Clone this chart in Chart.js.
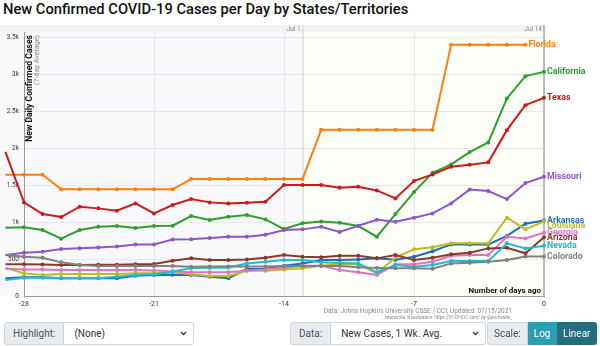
<!DOCTYPE HTML>
<html lang="en-US">

<head>
    <title>New Confirmed COVID-19 Cases per Day</title>
    <meta charset="utf-8" />
    <script src="https://cdn.jsdelivr.net/npm/chart.js@4"></script>
    <style>
        body { margin: 0; width: 600px; height: 346px; position: relative; background: #fff; font-family: Roboto, "Liberation Sans", sans-serif; overflow: hidden; }
        #title { position: absolute; left: 3px; top: 0px; font-size: 14.7px; font-weight: 500; color: #111; white-space: nowrap; }
        #wrap { position: absolute; left: 0; top: 0; width: 600px; height: 310px; }
        .src { position: absolute; right: 88px; color: #888; white-space: nowrap; text-align: right; }
        .grp { position: absolute; top: 322px; height: 23px; display: flex; font-size: 10px; color: #495057; }
        .grp > div { display: flex; align-items: center; border: 1px solid #ced4da; box-sizing: border-box; height: 23px; white-space: nowrap; }
        .lbl { background: #e9ecef; padding: 0 8px; border-radius: 3px 0 0 3px; }
        .sel { background: #fff; border-left: none !important; border-radius: 0 3px 3px 0; justify-content: space-between; padding: 0 6px 0 10px; color: #333; }
        .btn { color: #fff; padding: 0 6px; border: none !important; }
    </style>
</head>

<body>
    <div id="title">New Confirmed COVID-19 Cases per Day by States/Territories</div>
    <div id="wrap"><canvas id="graph"></canvas></div>
    <div class="src" style="top: 307px; font-size: 6.5px;">Data: Johns Hopkins University CSSE / CCI; Updated: 07/15/2021</div>
    <div class="src" style="top: 315px; font-size: 4.5px;">Interactive Visualization: https://91-DIVOC.com/ by @profwade_</div>

    <div class="grp" style="left: 4px; width: 190px;">
        <div class="lbl">Highlight:</div>
        <div class="sel" style="flex: 1;">(None) <svg width="7" height="5" viewBox="0 0 7 5"><path d="M1 1l2.5 2.5L6 1" stroke="#333" fill="none" stroke-width="1.3"/></svg></div>
    </div>
    <div class="grp" style="left: 290px; width: 196px;">
        <div class="lbl">Data:</div>
        <div class="sel" style="flex: 1;">New Cases, 1 Wk. Avg. <svg width="7" height="5" viewBox="0 0 7 5"><path d="M1 1l2.5 2.5L6 1" stroke="#333" fill="none" stroke-width="1.3"/></svg></div>
    </div>
    <div class="grp" style="left: 487px; width: 110px;">
        <div class="lbl" style="padding: 0 6px;">Scale:</div>
        <div class="btn" style="background: #2a9fb4;">Log</div>
        <div class="btn" style="background: #236d7c; border-radius: 0 3px 3px 0; flex: 1; justify-content: center; padding: 0 2px;">Linear</div>
    </div>

    <script>
        // days ago, -29 .. 0
        const days = [-29, -28, -27, -26, -25, -24, -23, -22, -21, -20, -19, -18, -17, -16, -15, -14, -13, -12, -11, -10, -9, -8, -7, -6, -5, -4, -3, -2, -1, 0];
        const xTicks = [-28, -21, -14, -7, 0];
        const yTicks = [0, 500, 1000, 1500, 2000, 2500, 3000, 3500];
        const jul1Day = -13;

        const florida = [1640, 1640, 1640, 1442, 1442, 1442, 1442, 1442, 1442, 1442, 1581, 1581, 1581, 1581, 1581, 1581, 1581, 2247, 2247, 2247, 2247, 2247, 2247, 2247, 3396, 3396, 3396, 3396, 3396, null];
        const california = [923, 928, 892, 775, 892, 937, 946, 919, 946, 950, 1081, 1027, 1072, 1095, 1036, 905, 985, 1009, 991, 946, 802, 1108, 1405, 1667, 1779, 1946, 2077, 2671, 2973, 3031];
        const texas = [1950, 1266, 1108, 1068, 1207, 1185, 1153, 1252, 1117, 1230, 1311, 1266, 1252, 1261, 1275, 1500, 1500, 1500, 1464, 1477, 1428, 1320, 1554, 1644, 1748, 1775, 1807, 2243, 2581, 2680];
        const missouri = [554, 586, 599, 635, 645, 655, 669, 696, 696, 765, 766, 784, 802, 802, 829, 892, 901, 937, 865, 950, 1032, 1005, 1059, 1117, 1252, 1441, 1419, 1311, 1527, 1613];
        const arkansas = [239, 252, 252, 239, 239, 239, 239, 275, 284, 289, 284, 261, 239, 365, 365, 410, 441, 486, 486, 495, 509, 490, 532, 605, 698, 698, 698, 813, 978, 1022];
        const louisiana = [383, 306, 284, 297, 297, 297, 297, 306, 306, 320, 293, 270, 270, 342, 342, 360, 374, 410, 428, 430, 306, 520, 631, 658, 712, 712, 712, 1059, 901, 1010];
        const georgia = [369, 360, 360, 351, 351, 351, 351, 351, 346, 333, 320, 320, 320, 342, 360, 387, 410, 410, 351, 320, 284, 428, 428, 464, 545, 554, 554, 802, 779, 856];
        const arizona = [428, 428, 425, 419, 419, 422, 422, 428, 432, 477, 509, 486, 486, 495, 518, 554, 532, 523, 545, 545, 509, 554, 486, 518, 563, 586, 644, 653, 577, 793];
        const nevada = [216, 248, 248, 239, 239, 239, 261, 284, 293, 329, 378, 383, 385, 441, 464, 486, 486, 455, 446, 441, 320, 419, 396, 419, 473, 473, 473, 712, 644, 680];
        const colorado = [554, 532, 518, 455, 419, 405, 405, 405, 405, 405, 396, 400, 400, 400, 400, 405, 405, 405, 405, 390, 380, 374, 374, 368, 441, 450, 464, 486, 534, 534];

        const states = ['Colorado', 'Nevada', 'Arizona', 'Georgia', 'Louisiana', 'Arkansas', 'Missouri', 'Texas', 'California', 'Florida'];
        const series = [colorado, nevada, arizona, georgia, louisiana, arkansas, missouri, texas, california, florida];
        const colors = ['#808080', '#1fbccf', '#8a3a2a', '#e072c4', '#bcbd22', '#1f6fb4', '#9056c8', '#cc1a1a', '#2ca02c', '#ff7f0e'];

        const fmtK = (v) => v === 0 ? '0' : (v < 1000 ? String(v) : (v / 1000) + 'k');

        const overlay = {
            id: 'overlay',
            beforeDraw(chart) {
                const { ctx, chartArea: a, scales: { x } } = chart;
                ctx.save();
                ctx.fillStyle = '#f3f3f7';
                ctx.fillRect(0, 25, a.right, a.top - 25);
                ctx.fillStyle = '#f9f9fc';
                ctx.fillRect(0, a.top, a.right, a.bottom - a.top);
                const j1 = x.getPixelForValue(jul1Day);
                ctx.fillStyle = '#fefef8';
                ctx.fillRect(j1, a.top, a.right - j1, a.bottom - a.top);
                ctx.restore();
            },
            beforeDatasetsDraw(chart) {
                const { ctx, chartArea: a, scales: { x } } = chart;
                const j1 = x.getPixelForValue(jul1Day);
                const j14 = x.getPixelForValue(0);
                ctx.save();
                ctx.strokeStyle = '#cfcfcf';
                ctx.lineWidth = 1;
                ctx.beginPath(); ctx.moveTo(j1 + 0.5, 25); ctx.lineTo(j1 + 0.5, a.bottom); ctx.stroke();
                ctx.strokeStyle = '#a8a8a8';
                ctx.lineWidth = 1.5;
                ctx.beginPath(); ctx.moveTo(j14, 25); ctx.lineTo(j14, a.bottom); ctx.stroke();

                ctx.fillStyle = '#8a8a8a';
                ctx.font = '6.5px Roboto';
                ctx.textAlign = 'right';
                ctx.textBaseline = 'alphabetic';
                ctx.fillText('Jul 1', j1 - 2, 31);
                ctx.fillText('Jul 14', j14 - 2, 31);

                // axis titles inside the plot
                ctx.translate(30, 35);
                ctx.rotate(-Math.PI / 2);
                ctx.textBaseline = 'middle';
                ctx.fillStyle = '#111';
                ctx.font = 'bold 8.6px Roboto';
                ctx.fillText('New Daily Confirmed Cases', 0, 0);
                ctx.fillStyle = '#888';
                ctx.font = '7.2px Roboto';
                ctx.fillText('(7-day Average)', 0, 7.5);
                ctx.restore();

                ctx.save();
                ctx.fillStyle = '#111';
                ctx.font = 'bold 8px Roboto';
                ctx.textAlign = 'right';
                ctx.fillText('Number of days ago', j14 - 3, 293);
                ctx.restore();
            },
            afterDatasetsDraw(chart) {
                const { ctx } = chart;
                const labels = [];
                chart.data.datasets.forEach((ds, i) => {
                    const pts = chart.getDatasetMeta(i).data;
                    let k = ds.data.length - 1;
                    while (k > 0 && ds.data[k].y == null) k--;
                    labels.push({ text: ds.label, color: ds.borderColor, x: pts[k].x, y: pts[k].y });
                });
                labels.sort((p, q) => p.y - q.y);
                for (let i = 1; i < labels.length; i++) {
                    if (labels[i].y < labels[i - 1].y + 5.6) labels[i].y = labels[i - 1].y + 5.6;
                }
                ctx.save();
                ctx.font = 'bold 8.8px Roboto';
                ctx.textBaseline = 'middle';
                for (const l of labels) {
                    ctx.fillStyle = l.color;
                    ctx.fillText(l.text, l.x + 3, l.y);
                }
                ctx.restore();
            }
        };

        const graph = new Chart(document.getElementById('graph').getContext('2d'), {
            type: 'line',
            data: {
                datasets: states.map((name, i) => ({
                    label: name,
                    data: days.map((d, k) => ({ x: d, y: series[i][k] })),
                    borderColor: colors[i],
                    backgroundColor: colors[i],
                    borderWidth: 2,
                    pointRadius: 2,
                    pointBorderWidth: 0,
                    tension: 0,
                    clip: false,
                    spanGaps: false
                }))
            },
            options: {
                responsive: true,
                maintainAspectRatio: false,
                animation: false,
                layout: { padding: { top: 32, left: 0, right: 56, bottom: 0 } },
                plugins: { legend: { display: false }, tooltip: { enabled: false } },
                scales: {
                    x: {
                        type: 'linear',
                        min: -28,
                        max: 0,
                        afterBuildTicks: (s) => { s.ticks = xTicks.map((v) => ({ value: v })); },
                        afterFit: (s) => { s.height = 14; },
                        grid: { color: '#e6e6ee', tickLength: 3, drawTicks: true },
                        border: { color: '#999' },
                        ticks: { font: { size: 7, family: 'Roboto' }, color: '#333', padding: 1, maxRotation: 0 }
                    },
                    y: {
                        type: 'linear',
                        min: 0,
                        max: 3570,
                        afterBuildTicks: (s) => { s.ticks = yTicks.map((v) => ({ value: v })); },
                        afterFit: (s) => { s.width = 24; },
                        grid: { color: '#e6e6ee', tickLength: 3 },
                        border: { color: '#999' },
                        ticks: { font: { size: 6.5, family: 'Roboto' }, color: '#333', padding: 2, callback: fmtK }
                    }
                }
            },
            plugins: [overlay]
        });
    </script>
</body>

</html>
